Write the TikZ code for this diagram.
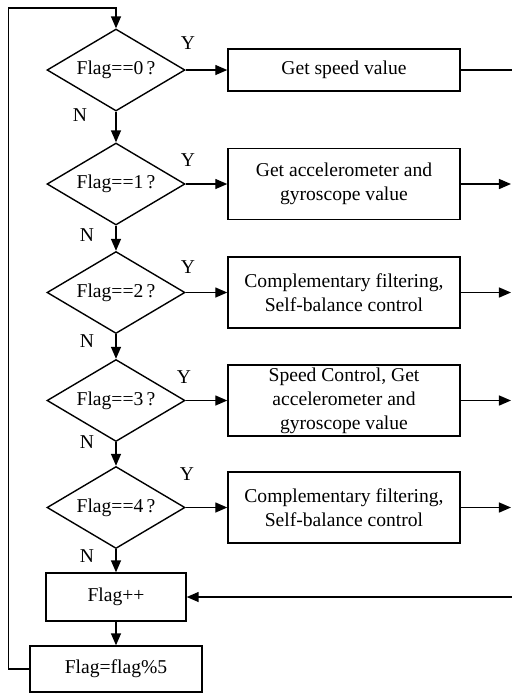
\documentclass[tikz,border=0pt]{standalone}
\usepackage{fontspec}
\setmainfont{Liberation Serif}
\usepackage{tikz}
\usetikzlibrary{shapes.geometric, arrows.meta, positioning}

\begin{document}
\begin{tikzpicture}[x=0.5pt, y=-0.5pt, line width=0.7pt,
    font=\fontsize{9.8}{12}\selectfont,
    decisao/.style={draw, diamond, aspect=1.68, inner sep=0pt,
        minimum width=69pt, minimum height=41pt},
    caixa/.style={draw, rectangle, align=center, inner sep=1pt,
        minimum width=116pt, minimum height=35.5pt},
    seta/.style={-{Triangle[length=6pt, width=5pt]}}]
        \useasboundingbox (0,0) rectangle (512,693);

        % Testes do Flag
        \node[decisao] (d0) at (116,70) {Flag==0\,?};
        \node[decisao] (d1) at (116,184) {Flag==1\,?};
        \node[decisao] (d2) at (116,292.5) {Flag==2\,?};
        \node[decisao] (d3) at (116,400.5) {Flag==3\,?};
        \node[decisao] (d4) at (116,507.5) {Flag==4\,?};

        % Acoes
        \node[caixa, minimum height=21pt] (b0) at (344,70) {Get speed value};
        \node[caixa] (b1) at (344,184) {Get accelerometer and\\gyroscope value};
        \node[caixa] (b2) at (344,292.5) {Complementary filtering,\\Self-balance control};
        \node[caixa] (b3) at (344,400.5) {Speed Control, Get\\accelerometer and\\gyroscope value};
        \node[caixa] (b4) at (344,507.5) {Complementary filtering,\\Self-balance control};

        \node[caixa, minimum width=70pt, minimum height=24pt] (inc) at (116,597) {Flag++};
        \node[caixa, minimum width=86pt, minimum height=23pt] (mod) at (116,669) {Flag=flag\%5};

        % Rotulos
        \node (y0) at (188,43) {Y};
        \node (y1) at (188,160) {Y};
        \node (y2) at (188,267) {Y};
        \node (y3) at (184,377) {Y};
        \node (y4) at (187,474) {Y};
        \node (n0) at (80,115) {N};
        \node (n1) at (87,235) {N};
        \node (n2) at (87,341) {N};
        \node (n3) at (87,442) {N};
        \node (n4) at (87,556) {N};

        % Ligacoes
        \draw[seta] (d0) -- (d1);
        \draw[seta] (d1) -- (d2);
        \draw[seta] (d2) -- (d3);
        \draw[seta] (d3) -- (d4);
        \draw[seta] (d4) -- (inc);
        \draw[seta] (inc) -- (mod);
        \draw[seta] (d0) -- (b0);
        \draw[seta] (d1) -- (b1);
        \draw[seta] (d2) -- (b2);
        \draw[seta] (d3) -- (b3);
        \draw[seta] (d4) -- (b4);

        % Saidas a direita
        \coordinate (r0) at (512,70);
        \coordinate (r1) at (511,184);
        \coordinate (r2) at (511,292.5);
        \coordinate (r3) at (511,400.5);
        \coordinate (r4) at (511,507.5);
        \coordinate (rin) at (512,597);
        \draw (b0.east) -- (r0);
        \draw[seta] (b1.east) -- (r1);
        \draw[seta] (b2.east) -- (r2);
        \draw[seta] (b3.east) -- (r3);
        \draw[seta] (b4.east) -- (r4);
        \draw[seta] (rin) -- (inc.east);

        % Volta ao inicio
        \coordinate (topo) at (116,8);
        \draw[seta] (mod.west) -- ++(-21,0) |- (topo) -- (d0.north);
    \end{tikzpicture}
\end{document}
